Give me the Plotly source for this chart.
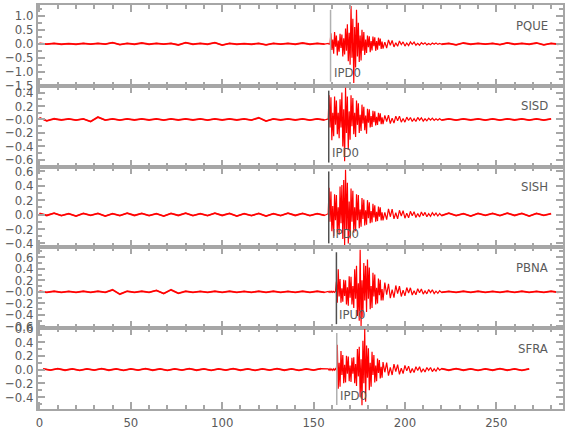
import plotly.graph_objects as go
from plotly.subplots import make_subplots

# ---------------- data ----------------
stations = ["PQUE", "SISD", "SISH", "PBNA", "SFRA"]
pick_times = [159.3, 158.3, 158.3, 162.5, 162.7]
pick_labels = ["IPD0", "IPD0", "IPD0", "IPU0", "IPD0"]

# segment start times (s); sample intervals (s): pre-event, signal, coda, tail
PQUE_starts = [0.0, 158.0, 188.0, 220.0]
SISD_starts = [0.0, 158.0, 188.0, 220.0]
SISH_starts = [0.0, 158.0, 188.0, 220.0]
PBNA_starts = [0.0, 158.0, 188.0, 220.0]
SFRA_starts = [2.0, 158.0, 188.0, 220.0]
seg_dt = [4.0, 0.5, 1.0, 4.0]

PQUE_pre = [0.015, -0.01, 0.015, -0.015, 0.01, -0.015, 0.015, -0.01, 0.015, -0.01,
            0.04, -0.03, 0.015, -0.015, 0.03, -0.015, 0.015, -0.01, 0.015, -0.04,
            0.04, -0.015, 0.015, -0.015, 0.04, -0.045, 0.015, -0.015, 0.01, -0.015,
            0.015, -0.035, 0.015, -0.01, 0.015, -0.015, 0.03, -0.015, 0.015, -0.01]
PQUE_sig = [0.015, -0.015, 0.01, 0.38, -0.22, 0.15, -0.35, 0.42, -0.10, 0.30,
            -0.42, 0.12, -0.28, 0.36, -0.15, 0.33, -0.45, 0.20, -0.38, 0.55,
            -0.25, 0.70, -0.62, 0.40, -0.75, 1.35, -0.50, 0.90, -1.40, 0.60,
            -0.85, 1.22, -0.45, 0.75, -0.65, 0.30, -0.60, 0.50, -0.25, 0.42,
            -0.40, 0.15, -0.33, 0.30, -0.12, 0.27, -0.30, 0.10, -0.24, 0.26,
            -0.08, 0.23, -0.25, 0.10, -0.21, 0.22, -0.07, 0.19, -0.18, 0.08]
PQUE_coda = [-0.17, 0.06, -0.15, 0.14, -0.05, 0.12, -0.11, 0.04, -0.09, 0.10,
             -0.03, 0.07, -0.08, 0.03, -0.06, 0.07, -0.02, 0.06, -0.05, 0.02,
             -0.05, 0.04, -0.015, 0.04, -0.035, 0.015, -0.03, 0.03, -0.015, 0.03,
             -0.02, 0.015]
PQUE_tail = [-0.015, 0.015, -0.035, 0.03, -0.015, 0.015, -0.01, 0.015, -0.03, 0.035,
             -0.015, 0.015, -0.015, 0.03, -0.035, 0.015, -0.015]

SISD_pre = [0.025, -0.02, 0.01, -0.008, 0.01, -0.01, 0.008, -0.03, 0.035, -0.01,
            0.008, -0.01, 0.008, -0.008, 0.01, -0.008, 0.008, -0.01, 0.008, -0.008,
            0.01, -0.008, 0.008, -0.01, 0.008, -0.008, 0.01, -0.008, 0.008, -0.01,
            0.025, -0.025, 0.008, -0.008, 0.01, -0.008, 0.008, -0.01, 0.008, -0.008]
SISD_sig = [0.008, 0.36, -0.12, 0.33, -0.31, 0.10, -0.25, 0.34, -0.08, 0.28,
            -0.22, 0.10, -0.28, 0.30, -0.12, 0.40, -0.40, 0.15, -0.62, 0.47,
            -0.20, 0.34, -0.45, 0.12, -0.30, 0.36, -0.10, 0.32, -0.22, 0.10,
            -0.26, 0.28, -0.08, 0.24, -0.20, 0.07, -0.17, 0.22, -0.06, 0.19,
            -0.16, 0.06, -0.21, 0.16, -0.05, 0.15, -0.12, 0.05, -0.11, 0.13,
            -0.04, 0.12, -0.09, 0.04, -0.08, 0.10, -0.03, 0.09, -0.07, 0.03]
SISD_coda = [-0.07, 0.06, -0.03, 0.065, -0.06, 0.02, -0.055, 0.05, -0.02, 0.05,
             -0.04, 0.015, -0.04, 0.035, -0.015, 0.03, -0.03, 0.012, -0.03, 0.03,
             -0.01, 0.025, -0.025, 0.01, -0.02, 0.02, -0.01, 0.02, -0.015, 0.01,
             -0.012, 0.012]
SISD_tail = [-0.01, 0.008, -0.01, 0.01, -0.008, 0.01, -0.01, 0.008, -0.01, 0.01,
             -0.008, 0.01, -0.01, 0.008, -0.01, 0.008]

SISH_pre = [0.015, -0.012, 0.02, -0.015, 0.012, -0.02, 0.015, -0.012, 0.015, -0.02,
            0.012, -0.015, 0.02, -0.012, 0.015, -0.015, 0.012, -0.02, 0.015, -0.012,
            0.02, -0.015, 0.012, -0.015, 0.02, -0.012, 0.015, -0.02, 0.012, -0.015,
            0.015, -0.02, 0.012, -0.015, 0.02, -0.012, 0.015, -0.015, 0.012, -0.012]
SISH_sig = [0.012, 0.37, -0.10, 0.32, -0.23, 0.12, -0.30, 0.28, -0.08, 0.27,
            -0.25, 0.10, -0.28, 0.39, -0.12, 0.41, -0.34, 0.48, -0.43, 0.62,
            -0.20, 0.44, -0.40, 0.18, -0.33, 0.36, -0.10, 0.33, -0.25, 0.10,
            -0.23, 0.28, -0.08, 0.27, -0.19, 0.07, -0.17, 0.23, -0.06, 0.21,
            -0.15, 0.06, -0.14, 0.20, -0.05, 0.17, -0.12, 0.05, -0.11, 0.15,
            -0.04, 0.13, -0.10, 0.04, -0.09, 0.11, -0.03, 0.10, -0.08, 0.03]
SISH_coda = [-0.08, 0.03, -0.07, 0.08, -0.03, 0.075, -0.06, 0.025, -0.06, 0.06,
             -0.02, 0.055, -0.05, 0.02, -0.045, 0.045, -0.015, 0.04, -0.04, 0.015,
             -0.035, 0.035, -0.015, 0.03, -0.03, 0.012, -0.025, 0.025, -0.012, 0.02,
             -0.02, 0.015]
SISH_tail = [-0.015, 0.02, -0.015, 0.012, -0.02, 0.015, -0.012, 0.015, -0.015, 0.02,
             -0.012, 0.015, -0.02, 0.015, -0.012, 0.012]

PBNA_pre = [0.01, -0.008, 0.01, -0.01, 0.008, -0.01, 0.01, -0.008, 0.01, -0.008,
            0.035, -0.04, 0.01, -0.008, 0.01, -0.01, 0.025, -0.03, 0.035, -0.025,
            0.01, -0.01, 0.008, -0.01, 0.01, -0.008, 0.01, -0.01, 0.008, -0.01,
            0.01, -0.008, 0.01, -0.01, 0.008, -0.01, 0.01, -0.008, 0.01, -0.008]
PBNA_sig = [0.008, -0.01, 0.01, -0.008, 0.01, -0.01, 0.008, -0.01, 0.01, 0.18,
            -0.19, 0.39, -0.08, 0.22, -0.19, 0.06, -0.17, 0.21, -0.07, 0.20,
            -0.22, 0.08, -0.24, 0.27, -0.10, 0.26, -0.22, 0.10, -0.28, 0.39,
            -0.12, 0.45, -0.42, 0.15, -0.50, 0.73, -0.59, 0.20, -0.45, 0.50,
            -0.15, 0.45, -0.35, 0.56, -0.12, 0.42, -0.30, 0.10, -0.28, 0.33,
            -0.08, 0.30, -0.22, 0.07, -0.20, 0.23, -0.06, 0.21, -0.15, 0.05]
PBNA_coda = [-0.15, 0.16, -0.05, 0.14, -0.11, 0.04, -0.10, 0.11, -0.03, 0.10,
             -0.08, 0.03, -0.07, 0.075, -0.02, 0.07, -0.055, 0.02, -0.05, 0.055,
             -0.015, 0.05, -0.04, 0.015, -0.035, 0.04, -0.012, 0.035, -0.03, 0.012,
             -0.025, 0.02]
PBNA_tail = [-0.01, 0.008, -0.01, 0.01, -0.008, 0.01, -0.01, 0.008, -0.01, 0.01,
             -0.008, 0.01, -0.01, 0.008, -0.01, 0.01, -0.008]

SFRA_pre = [0.01, -0.008, 0.012, -0.01, 0.008, -0.012, 0.01, -0.008, 0.012, -0.01,
            0.008, -0.012, 0.01, -0.008, 0.012, -0.01, 0.008, -0.012, 0.01, -0.008,
            0.012, -0.01, 0.008, -0.012, 0.01, -0.008, 0.012, -0.01, 0.008, -0.012,
            0.01, -0.008, 0.012, -0.01, 0.008, -0.012, 0.01, -0.008, 0.012]
SFRA_sig = [0.01, -0.008, 0.012, -0.01, 0.008, -0.012, 0.01, -0.008, 0.012, -0.01,
            0.36, -0.28, 0.10, -0.25, 0.27, -0.08, 0.21, -0.20, 0.07, -0.19,
            0.20, -0.06, 0.19, -0.17, 0.06, -0.18, 0.17, -0.06, 0.18, -0.20,
            0.08, -0.24, 0.30, -0.10, 0.33, -0.40, 0.15, -0.52, 0.42, -0.20,
            0.59, -0.47, 0.35, -0.12, 0.31, -0.30, 0.10, -0.25, 0.26, -0.08,
            0.21, -0.19, 0.06, -0.17, 0.16, -0.05, 0.14, -0.13, 0.04, -0.12]
SFRA_coda = [0.11, -0.04, 0.10, -0.09, 0.03, -0.08, 0.08, -0.03, 0.07, -0.07,
             0.02, -0.06, 0.06, -0.02, 0.05, -0.05, 0.015, -0.045, 0.04, -0.015,
             0.04, -0.04, 0.012, -0.035, 0.03, -0.012, 0.03, -0.03, 0.01, -0.025,
             0.025, -0.01]
SFRA_tail = [0.012, -0.01, 0.012, -0.01, 0.01, -0.012, 0.01, -0.01, 0.012, -0.01,
             0.01, -0.012, 0.01]

# y-axis ranges and tick labels per panel
y_ranges = [[-1.502, 1.39], [-0.70, 0.50], [-0.455, 0.665], [-0.63, 0.77], [-0.575, 0.602]]
y_tickvals = [[1.0, 0.5, 0.0, -0.5, -1.0, -1.5],
              [0.4, 0.2, 0.0, -0.2, -0.4, -0.6],
              [0.6, 0.4, 0.2, 0.0, -0.2, -0.4],
              [0.6, 0.4, 0.2, 0.0, -0.2, -0.4, -0.6],
              [0.6, 0.4, 0.2, 0.0, -0.2, -0.4]]
y_ticktext = [["1.0", "0.5", "0.0", "\u22120.5", "\u22121.0", "\u22121.5"],
              ["0.4", "0.2", "\u22120.0", "\u22120.2", "\u22120.4", "\u22120.6"],
              ["0.6", "0.4", "0.2", "0.0", "\u22120.2", "\u22120.4"],
              ["0.6", "0.4", "0.2", "\u22120.0", "\u22120.2", "\u22120.4", "\u22120.6"],
              ["0.6", "0.4", "0.2", "0.0", "\u22120.2", "\u22120.4"]]
y_minor = [0.25, 0.1, 0.1, 0.1, 0.1]
x_tickvals = [0, 50, 100, 150, 200, 250]
x_range = [-0.8, 286.5]

# ---------------- build figure ----------------
segments = {
    "PQUE": (PQUE_starts, [PQUE_pre, PQUE_sig, PQUE_coda, PQUE_tail]),
    "SISD": (SISD_starts, [SISD_pre, SISD_sig, SISD_coda, SISD_tail]),
    "SISH": (SISH_starts, [SISH_pre, SISH_sig, SISH_coda, SISH_tail]),
    "PBNA": (PBNA_starts, [PBNA_pre, PBNA_sig, PBNA_coda, PBNA_tail]),
    "SFRA": (SFRA_starts, [SFRA_pre, SFRA_sig, SFRA_coda, SFRA_tail]),
}

FONT = "DejaVu Sans Condensed, Liberation Sans Narrow, DejaVu Sans, sans-serif"
GRAY = "#a6a6a6"
TXT = "#5a5a5a"

fig = make_subplots(rows=5, cols=1, shared_xaxes=True, vertical_spacing=0)

for i, name in enumerate(stations):
    starts, segs = segments[name]
    xs, ys = [], []
    quiet = []
    for j, (s0, dt, vals) in enumerate(zip(starts, seg_dt, segs)):
        seg_x = [s0 + k * dt for k in range(len(vals))]
        xs.extend(seg_x)
        ys.extend(vals)
        if j in (0, 3):
            quiet.append((seg_x, vals))
    # background noise drawn a little thicker (fuzzy baseline)
    for qx, qy in quiet:
        fig.add_trace(go.Scatter(x=qx, y=qy, mode="lines",
                                 line=dict(color="#ff1a1a", width=1.8),
                                 showlegend=False, hoverinfo="skip"),
                      row=i + 1, col=1)
    fig.add_trace(go.Scatter(x=xs, y=ys, mode="lines",
                             line=dict(color="#ff0000", width=1.2),
                             showlegend=False, hoverinfo="skip"),
                  row=i + 1, col=1)

pick_colors = ["#b0b0b0", "#505050", "#505050", "#505050", "#b0b0b0"]
for i, name in enumerate(stations):
    r = i + 1
    xa = "x" if r == 1 else f"x{r}"
    ya = "y" if r == 1 else f"y{r}"
    fig.add_shape(type="line", xref=xa, yref=f"{ya} domain",
                  x0=pick_times[i], x1=pick_times[i], y0=0.05, y1=0.94,
                  line=dict(color=pick_colors[i], width=1.5))
    fig.add_annotation(xref=xa, yref=f"{ya} domain", x=pick_times[i], y=0.17,
                       text=pick_labels[i], showarrow=False, xanchor="left",
                       yanchor="middle", xshift=1,
                       font=dict(family=FONT, size=13, color=TXT))
    fig.add_annotation(xref=f"{xa} domain", yref=f"{ya} domain", x=0.976, y=0.75,
                       text=name, showarrow=False, xanchor="right", yanchor="middle",
                       font=dict(family=FONT, size=13, color=TXT))
    fig.update_yaxes(row=r, col=1, range=y_ranges[i], tickmode="array",
                     tickvals=y_tickvals[i], ticktext=y_ticktext[i],
                     ticks="inside", ticklen=7, tickwidth=2, tickcolor=GRAY,
                     minor=dict(dtick=y_minor[i], ticks="inside", ticklen=4,
                                tickwidth=2, tickcolor=GRAY, showgrid=False),
                     showline=True, linecolor=GRAY, linewidth=2, mirror="allticks",
                     showgrid=False, zeroline=False, automargin=False,
                     tickfont=dict(family=FONT, size=13, color=TXT))
    fig.update_xaxes(row=r, col=1, range=x_range, tickmode="array",
                     tickvals=x_tickvals, ticks="inside", ticklen=7, tickwidth=2,
                     tickcolor=GRAY,
                     minor=dict(dtick=10, tick0=0, ticks="inside", ticklen=4,
                                tickwidth=2, tickcolor=GRAY, showgrid=False),
                     showline=True, linecolor=GRAY, linewidth=2, mirror="allticks",
                     showgrid=False, zeroline=False, automargin=False,
                     showticklabels=(r == 5),
                     tickfont=dict(family=FONT, size=13, color=TXT))

fig.update_layout(width=580, height=440,
                  margin=dict(l=38, r=17, t=5, b=31, autoexpand=False),
                  paper_bgcolor="white", plot_bgcolor="white")

fig.write_html("out.html", config={"displayModeBar": False},
               post_script="document.body.style.margin='0';")
